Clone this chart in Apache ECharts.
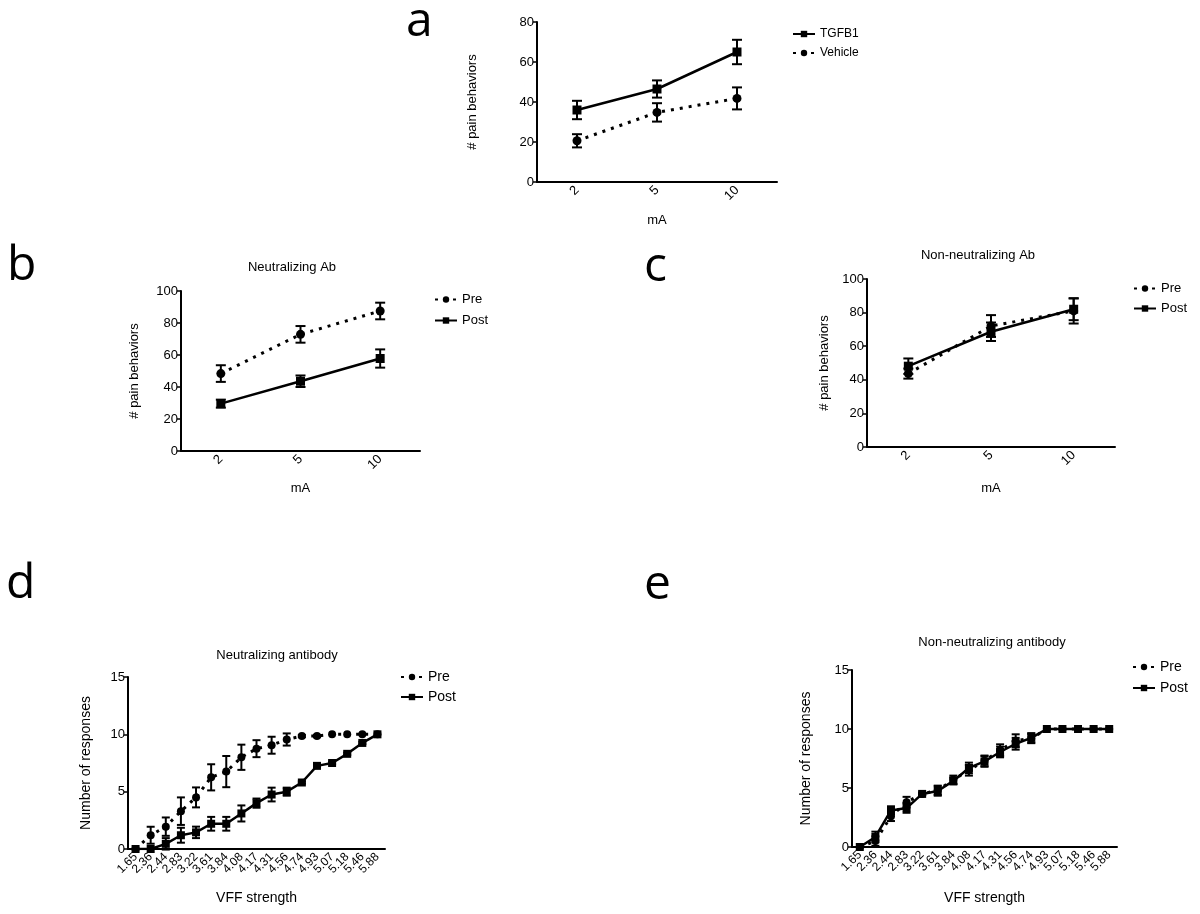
<!DOCTYPE html>
<html><head><meta charset="utf-8">
<script src="https://cdn.jsdelivr.net/npm/echarts@6/dist/echarts.min.js"></script>
<style>html,body{margin:0;padding:0;background:#fff}#c{width:1200px;height:914px}</style>
</head><body><div id="c"></div>
<script>
// ---- data ----
const mA = ['2', '5', '10'];
const tgfb1 = [36, 46.5, 65];
const tgfb1Err = [4.6, 4.3, 6.1];
const vehicle = [20.6, 34.8, 41.8];
const vehicleErr = [3.3, 4.6, 5.5];

const bPre = [48.4, 72.9, 87.5];
const bPreErr = [5.2, 5.2, 5.2];
const bPost = [29.6, 43.6, 57.8];
const bPostErr = [2.5, 3.6, 5.7];

const cPre = [43.7, 72, 81];
const cPreErr = [3, 6.5, 7.5];
const cPost = [48.1, 68.6, 82];
const cPostErr = [4.6, 5.5, 6.5];

const vff = ['1.65','2.36','2.44','2.83','3.22','3.61','3.84','4.08','4.17','4.31','4.56','4.74','4.93','5.07','5.18','5.46','5.88'];
const dPre = [0, 1.2, 1.95, 3.3, 4.5, 6.25, 6.75, 8.0, 8.75, 9.05, 9.55, 9.85, 9.85, 10, 10, 10, 10];
const dPreErr = [0, 0.74, 0.8, 1.2, 0.87, 1.14, 1.36, 1.1, 0.74, 0.74, 0.53, 0.1, 0.1, 0, 0, 0, 0];
const dPost = [0, 0, 0.45, 1.2, 1.45, 2.2, 2.2, 3.1, 4.0, 4.75, 5.0, 5.8, 7.25, 7.5, 8.3, 9.25, 10];
const dPostErr = [0, 0, 0.5, 0.65, 0.5, 0.6, 0.6, 0.7, 0.4, 0.6, 0.35, 0.1, 0.1, 0.1, 0.1, 0.1, 0];

const ePre = [0, 0.5, 2.6, 3.8, 4.5, 4.8, 5.7, 6.5, 7.3, 8.2, 9.0, 9.2, 10, 10, 10, 10, 10];
const ePreErr = [0, 0.4, 0.4, 0.45, 0.1, 0.4, 0.35, 0.45, 0.45, 0.5, 0.55, 0.4, 0, 0, 0, 0, 0];
const ePost = [0, 0.85, 3.1, 3.3, 4.5, 4.75, 5.6, 6.7, 7.25, 8.05, 8.75, 9.25, 10, 10, 10, 10, 10];
const ePostErr = [0, 0.45, 0.35, 0.4, 0.1, 0.4, 0.3, 0.45, 0.45, 0.45, 0.5, 0.4, 0, 0, 0, 0, 0];

// ---- helpers ----
const FF = '"Liberation Sans", Arial, sans-serif';
const BLACK = '#000';

function xAx(idx, cats, name, gap, fs, lfs) {
  return {
    gridIndex: idx, type: 'category', data: cats, boundaryGap: true,
    name: name, nameLocation: 'middle', nameGap: gap,
    nameTextStyle: {color: BLACK, fontSize: fs, fontFamily: FF},
    axisLine: {lineStyle: {color: BLACK, width: 2}},
    axisTick: {alignWithLabel: true, length: 4, lineStyle: {color: BLACK, width: 1.5}},
    axisLabel: {rotate: 45, interval: 0, margin: 6, color: BLACK, fontSize: lfs, fontFamily: FF},
    splitLine: {show: false}
  };
}
function yAx(idx, max, interval, name, gap, fs) {
  return {
    gridIndex: idx, type: 'value', min: 0, max: max, interval: interval,
    name: name, nameLocation: 'middle', nameGap: gap,
    nameTextStyle: {color: BLACK, fontSize: fs, fontFamily: FF},
    axisLine: {show: true, lineStyle: {color: BLACK, width: 2}},
    axisTick: {show: true, length: 4, lineStyle: {color: BLACK, width: 1.5}},
    axisLabel: {margin: 3, color: BLACK, fontSize: 13, fontFamily: FF},
    splitLine: {show: false}
  };
}
function lineS(idx, name, vals, dotted, symSize) {
  return {
    type: 'line', name: name, xAxisIndex: idx, yAxisIndex: idx, data: vals,
    symbol: dotted ? 'circle' : 'rect', symbolSize: symSize,
    itemStyle: {color: BLACK},
    lineStyle: dotted ? {color: BLACK, width: 3, type: [3, 6]} : {color: BLACK, width: 2.5, type: 'solid'},
    z: 3
  };
}
function errS(idx, vals, errs, capW) {
  return {
    type: 'custom', xAxisIndex: idx, yAxisIndex: idx,
    data: vals.map((v, i) => [i, v, errs[i]]),
    renderItem: function (params, api) {
      const i = api.value(0), v = api.value(1), e = api.value(2);
      if (!e) return null;
      const top = api.coord([i, v + e]);
      const bot = api.coord([i, v - e]);
      const st = {stroke: BLACK, lineWidth: 2};
      const h = capW / 2;
      return {type: 'group', children: [
        {type: 'line', shape: {x1: top[0], y1: top[1], x2: bot[0], y2: bot[1]}, style: st},
        {type: 'line', shape: {x1: top[0] - h, y1: top[1], x2: top[0] + h, y2: top[1]}, style: st},
        {type: 'line', shape: {x1: bot[0] - h, y1: bot[1], x2: bot[0] + h, y2: bot[1]}, style: st}
      ]};
    },
    z: 2, silent: true
  };
}
function legendAt(left, top, names, fs, gap) {
  return {
    left: left, top: top, orient: 'vertical', padding: 0, itemWidth: 22, itemHeight: 8, itemGap: gap,
    textStyle: {color: BLACK, fontSize: fs, fontFamily: FF}, data: names, selectedMode: false
  };
}
function letter(t, x, y) {
  return {type: 'text', left: x, top: y, style: {text: t, font: '48px "Open Sans", Lato, sans-serif', fill: BLACK}};
}

const option = {
  animation: false,
  backgroundColor: '#fff',
  title: [
    {text: 'Neutralizing Ab', left: 287, top: 256, textAlign: 'center', textStyle: {fontSize: 13, fontWeight: 'normal', color: BLACK, fontFamily: FF}},
    {text: 'Non-neutralizing Ab', left: 973, top: 244, textAlign: 'center', textStyle: {fontSize: 13, fontWeight: 'normal', color: BLACK, fontFamily: FF}},
    {text: 'Neutralizing antibody', left: 272, top: 644, textAlign: 'center', textStyle: {fontSize: 13, fontWeight: 'normal', color: BLACK, fontFamily: FF}},
    {text: 'Non-neutralizing antibody', left: 987, top: 631, textAlign: 'center', textStyle: {fontSize: 13, fontWeight: 'normal', color: BLACK, fontFamily: FF}}
  ],
  grid: [
    {left: 537, top: 22, width: 240, height: 160},
    {left: 181, top: 291, width: 239, height: 160},
    {left: 867, top: 279, width: 248, height: 168},
    {left: 128, top: 677, width: 257, height: 172},
    {left: 852, top: 670, width: 265, height: 177}
  ],
  xAxis: [
    xAx(0, mA, 'mA', 32, 13, 13),
    xAx(1, mA, 'mA', 31, 13, 13),
    xAx(2, mA, 'mA', 35, 13, 13),
    xAx(3, vff, 'VFF strength', 42, 14, 12),
    xAx(4, vff, 'VFF strength', 44, 14, 12)
  ],
  yAxis: [
    yAx(0, 80, 20, '# pain behaviors', 58, 13),
    yAx(1, 100, 20, '# pain behaviors', 40, 13),
    yAx(2, 100, 20, '# pain behaviors', 36, 13),
    yAx(3, 15, 5, 'Number of responses', 35, 14),
    yAx(4, 15, 5, 'Number of responses', 39, 14)
  ],
  legend: [
    legendAt(792, 28, ['TGFB1', 'Vehicle'], 12, 7),
    legendAt(434, 293, ['Pre', 'Post'], 13, 8),
    legendAt(1133, 282, ['Pre', 'Post'], 13, 7),
    legendAt(400, 670, ['Pre', 'Post'], 14, 6),
    legendAt(1132, 660, ['Pre', 'Post'], 14, 7)
  ],
  graphic: [
    letter('a', 406, -2),
    letter('b', 7, 242),
    letter('c', 644, 243),
    letter('d', 6, 560),
    letter('e', 644, 561)
  ],
  series: [
    lineS(0, 'TGFB1', tgfb1, false, 9), errS(0, tgfb1, tgfb1Err, 10),
    lineS(0, 'Vehicle', vehicle, true, 9), errS(0, vehicle, vehicleErr, 10),
    lineS(1, 'Pre', bPre, true, 9), errS(1, bPre, bPreErr, 10),
    lineS(1, 'Post', bPost, false, 9), errS(1, bPost, bPostErr, 10),
    lineS(2, 'Pre', cPre, true, 9), errS(2, cPre, cPreErr, 10),
    lineS(2, 'Post', cPost, false, 9), errS(2, cPost, cPostErr, 10),
    lineS(3, 'Pre', dPre, true, 8), errS(3, dPre, dPreErr, 8),
    lineS(3, 'Post', dPost, false, 8), errS(3, dPost, dPostErr, 8),
    lineS(4, 'Pre', ePre, true, 8), errS(4, ePre, ePreErr, 8),
    lineS(4, 'Post', ePost, false, 8), errS(4, ePost, ePostErr, 8)
  ]
};
const chart = echarts.init(document.getElementById('c'), null, {renderer: 'canvas'});
chart.setOption(option);
</script>
</body></html>
